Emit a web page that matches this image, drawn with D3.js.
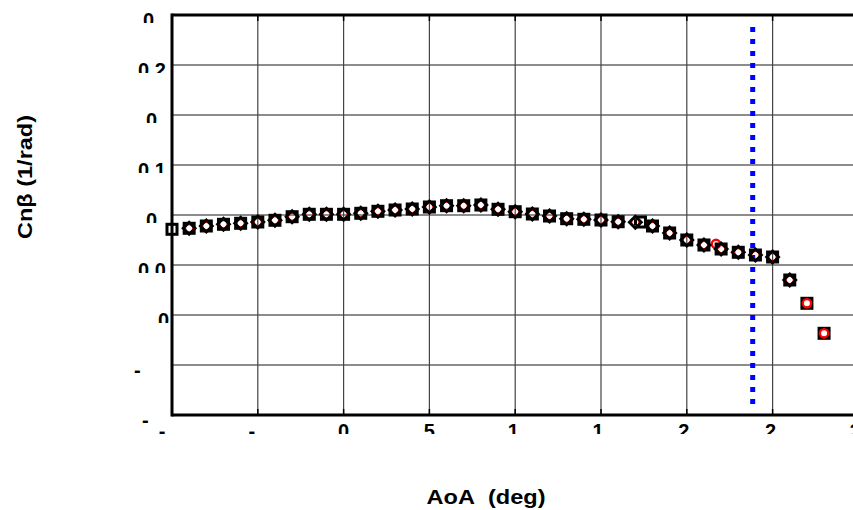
<!DOCTYPE html>
<html><head><meta charset="utf-8">
<script src="https://cdn.jsdelivr.net/npm/d3@7"></script>
<style>body{margin:0;background:#fff}svg{display:block}</style>
</head><body><svg id="c" width="853" height="510"></svg>
<script>
// ---- data ----
const xTicks = [-10,-5,0,5,10,15,20,25,30];
const xTickLabels = ["-","-","0","5","1","1","2","2","3"];
const yTicks = [0.3,0.25,0.2,0.15,0.1,0.05,0,-0.05,-0.1];
const yTickLabels = ["0","0 2","0.","0 1","0","0 0","0","-","-"];

const aoaSquare = [-10,-9,-8,-7,-6,-5,-4,-3,-2,-1,0,1,2,3,4,5,6,7,8,9,10,11,12,13,14,15,16,17.3,18,19,20,21,22,23,24,25,26,27,28];
const cnSquare  = [0.0857,0.0867,0.089,0.0907,0.0917,0.093,0.0947,0.0983,0.1007,0.1007,0.1007,0.1017,0.1037,0.105,0.106,0.108,0.1093,0.1093,0.110,0.1057,0.1033,0.101,0.099,0.0963,0.0957,0.095,0.0933,0.093,0.089,0.082,0.075,0.070,0.066,0.0627,0.060,0.058,0.035,0.0117,-0.0183];

const aoaCircle = [-9,-8,-7,-6,-5,-4,-3,-2,-1,0,1,2,3,4,5,6,7,8,9,10,11,12,13,14,15,16,17,18,19,20,21,21.7,22,23,24,25,26,27,28];
const cnCircle  = [0.0867,0.089,0.0907,0.0917,0.093,0.0947,0.0983,0.1007,0.1007,0.1007,0.1017,0.1037,0.105,0.106,0.108,0.1093,0.1093,0.110,0.1057,0.1033,0.101,0.099,0.0963,0.0957,0.095,0.0933,0.0927,0.089,0.082,0.075,0.070,0.071,0.066,0.0627,0.060,0.058,0.035,0.0117,-0.0183];

const aoaDiamond = [-9,-8,-7,-6,-5,-4,-3,-2,-1,0,1,2,3,4,5,6,7,8,9,10,11,12,13,14,15,16,17,18,19,20,21,22,23,24,25,26];
const cnDiamond  = [0.0867,0.089,0.0907,0.0917,0.093,0.0947,0.0983,0.1007,0.1007,0.1007,0.1017,0.1037,0.105,0.106,0.108,0.1093,0.1093,0.110,0.1057,0.1033,0.101,0.099,0.0963,0.0957,0.095,0.0933,0.0927,0.089,0.082,0.075,0.070,0.066,0.0627,0.060,0.058,0.035];

const limitAoa = 23.84;
const limitRange = [-0.093, 0.288];

// ---- layout / style ----
const svg = d3.select("#c");
const x = d3.scaleLinear().domain([-10,30]).range([172,858.4]);
const y = d3.scaleLinear().domain([-0.1,0.3]).range([415,15]);
const font = "'Liberation Sans', Arial, Helvetica, sans-serif";
const yLabelX = [143,138,146,138,146,138,158,134,142];
const xLabelDx = [-10,-6,0,0,-2,-3,-3,-2,-3];
const defs = svg.append("defs");

// grid
svg.append("g").selectAll("line").data(yTicks).join("line")
  .attr("x1",x(-10)).attr("x2",x(30)).attr("y1",d=>y(d)).attr("y2",d=>y(d))
  .attr("stroke","#666").attr("stroke-width",1.4);
svg.append("g").selectAll("line").data(xTicks).join("line")
  .attr("x1",d=>x(d)).attr("x2",d=>x(d)).attr("y1",y(0.3)).attr("y2",y(-0.1))
  .attr("stroke","#444").attr("stroke-width",1.2);

// blue dotted limit line
svg.append("line").attr("x1",x(limitAoa)).attr("x2",x(limitAoa))
  .attr("y1",y(limitRange[1])).attr("y2",y(limitRange[0]))
  .attr("stroke","#0000ff").attr("stroke-width",5).attr("stroke-dasharray","5,7");

// markers
const sq = 10;
svg.append("g").selectAll("rect").data(aoaSquare.map((a,i)=>[a,cnSquare[i]])).join("rect")
  .attr("x",d=>x(d[0])-sq/2).attr("y",d=>y(d[1])-sq/2).attr("width",sq).attr("height",sq)
  .attr("fill","none").attr("stroke","#000").attr("stroke-width",3);
svg.append("g").selectAll("circle").data(aoaCircle.map((a,i)=>[a,cnCircle[i]])).join("circle")
  .attr("cx",d=>x(d[0])).attr("cy",d=>y(d[1])).attr("r",4.2)
  .attr("fill","none").attr("stroke","#ff0000").attr("stroke-width",2.4);
const dm = 6;
svg.append("g").selectAll("path").data(aoaDiamond.map((a,i)=>[a,cnDiamond[i]])).join("path")
  .attr("d",d=>{const cx=x(d[0]),cy=y(d[1]);return `M${cx},${cy-dm}L${cx+dm},${cy}L${cx},${cy+dm}L${cx-dm},${cy}Z`;})
  .attr("fill","none").attr("stroke","#000").attr("stroke-width",2.8);

// frame
const fr = svg.append("g").attr("stroke","#000").attr("stroke-width",3);
fr.append("line").attr("x1",x(-10)).attr("x2",x(-10)).attr("y1",y(0.3)-1.5).attr("y2",y(-0.1)+1.5);
fr.append("line").attr("x1",x(-10)).attr("x2",x(30)).attr("y1",y(0.3)).attr("y2",y(0.3));
fr.append("line").attr("x1",x(-10)).attr("x2",x(30)).attr("y1",y(-0.1)).attr("y2",y(-0.1));
svg.append("g").selectAll("line").data(xTicks).join("line")
  .attr("x1",d=>x(d)).attr("x2",d=>x(d)).attr("y1",y(-0.1)).attr("y2",y(-0.1)-6)
  .attr("stroke","#000").attr("stroke-width",1.5);
svg.append("g").selectAll("line").data(xTicks).join("line")
  .attr("x1",d=>x(d)).attr("x2",d=>x(d)).attr("y1",y(0.3)).attr("y2",y(0.3)+6)
  .attr("stroke","#000").attr("stroke-width",1.5);

// clipped tick labels
yTicks.forEach((v,i)=>{
  const id="yc"+i, ty=y(v);
  defs.append("clipPath").attr("id",id).append("rect")
    .attr("x",100).attr("y",ty-10).attr("width",70).attr("height",18);
  svg.append("text").attr("clip-path",`url(#${id})`)
    .attr("x",yLabelX[i]).attr("y",ty+12.3)
    .attr("font-family",font).attr("font-weight","bold").attr("font-size",20)
    .text(yTickLabels[i]);
});
xTicks.forEach((v,i)=>{
  const id="xc"+i, tx=x(v);
  defs.append("clipPath").attr("id",id).append("rect")
    .attr("x",tx-30).attr("y",418).attr("width",60).attr("height",16);
  svg.append("text").attr("clip-path",`url(#${id})`)
    .attr("x",tx+xLabelDx[i]).attr("y",437.5).attr("text-anchor","middle")
    .attr("font-family",font).attr("font-weight","bold").attr("font-size",20)
    .text(xTickLabels[i]);
});

// axis titles
svg.append("text").attr("x",486).attr("y",504).attr("text-anchor","middle")
  .attr("font-family",font).attr("font-weight","bold").attr("font-size",21)
  .attr("textLength",119).attr("lengthAdjust","spacingAndGlyphs")
  .text("AoA\u00a0\u00a0(deg)");
svg.append("text").attr("transform","translate(32,177) rotate(-90)").attr("text-anchor","middle")
  .attr("font-family",font).attr("font-weight","bold").attr("font-size",21)
  .attr("textLength",124).attr("lengthAdjust","spacingAndGlyphs")
  .text("Cnβ (1/rad)");
</script></body></html>
